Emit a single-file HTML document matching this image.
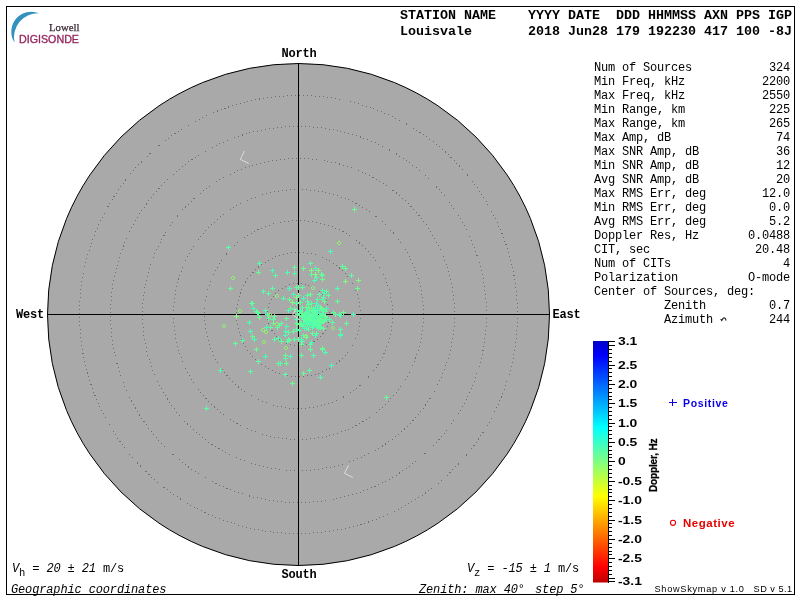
<!DOCTYPE html>
<html><head><meta charset="utf-8"><title>Skymap</title>
<style>
html,body{margin:0;padding:0;background:#fff;}
body{width:800px;height:600px;position:relative;overflow:hidden;font-family:"Liberation Mono",monospace;color:#000;}
#frame{position:absolute;left:6px;top:6px;width:787px;height:587px;border:1px solid #000;}
#wrap{position:absolute;left:0;top:0;width:800px;height:600px;will-change:transform;}
svg{position:absolute;left:0;top:0;}
.t{position:absolute;white-space:pre;}
.hd{font:bold 13.33px/16px "Liberation Mono",monospace;left:400px;}
.dir{font:bold 12px/14px "Liberation Mono",monospace;letter-spacing:-0.2px;}
.r{position:absolute;left:594px;width:196px;height:14px;font:12px/14px "Liberation Mono",monospace;letter-spacing:-0.2px;white-space:pre;}
.r b{position:absolute;right:0;top:0;font-weight:normal;}
.it{font:italic 12px/14px "Liberation Mono",monospace;letter-spacing:-0.14px;}
.it i{font-style:normal;}
.it sub{font-style:normal;font-size:10.5px;vertical-align:baseline;position:relative;top:4px;}
.cl{position:absolute;left:617.5px;font:bold 11px/14px "Liberation Sans",sans-serif;white-space:pre;transform-origin:0 50%;transform:scaleX(1.26);}
.sans{font-family:"Liberation Sans",sans-serif;}
</style></head><body>
<div id="wrap"><div id="frame"></div>
<svg width="800" height="600" viewBox="0 0 800 600">
<defs><linearGradient id="g" x1="0" y1="0" x2="0" y2="1">
<stop offset="0" stop-color="#0000c8"/><stop offset="0.06" stop-color="#0000ff"/>
<stop offset="0.357" stop-color="#00ffff"/><stop offset="0.5" stop-color="#80ff80"/>
<stop offset="0.643" stop-color="#ffff00"/><stop offset="0.935" stop-color="#ff0000"/><stop offset="1" stop-color="#be0000"/>
</linearGradient></defs>
<circle cx="298.5" cy="314.5" r="251" fill="#a9a9a9" stroke="#000" stroke-width="1"/>
<g fill="none" stroke="#6e6e6e" stroke-width="1" stroke-dasharray="1 3" shape-rendering="crispEdges"><circle cx="298.5" cy="314.5" r="31"/><circle cx="298.5" cy="314.5" r="62"/><circle cx="298.5" cy="314.5" r="94"/><circle cx="298.5" cy="314.5" r="125"/><circle cx="298.5" cy="314.5" r="156"/><circle cx="298.5" cy="314.5" r="188"/><circle cx="298.5" cy="314.5" r="219"/></g>
<g stroke="#000" stroke-width="1" shape-rendering="crispEdges"><path d="M298.5 63v503M47 314.5h503"/></g>
<g shape-rendering="crispEdges" stroke-width="1"><path d="M226 247.5h5M228.5 245v5" stroke="#5affa5"/><path d="M257 263.5h5M259.5 261v5" stroke="#50ffb0"/><path d="M256 272.5h5M258.5 270v5" stroke="#69ff8c"/><path d="M270 270.5h5M272.5 268v5" stroke="#46ffb9"/><path d="M273 275.5h5M275.5 273v5" stroke="#5affa0"/><path d="M228 288.5h5M230.5 286v5" stroke="#64ff96"/><path d="M270 288.5h5M272.5 286v5" stroke="#5affa5"/><path d="M261 291.5h5M263.5 289v5" stroke="#50ffb0"/><path d="M352 209.5h5M354.5 207v5" stroke="#69ff8c"/><path d="M328 251.5h5M330.5 249v5" stroke="#46ffb9"/><path d="M308 263.5h5M310.5 261v5" stroke="#5affa0"/><path d="M292 267.5h5M294.5 265v5" stroke="#64ff96"/><path d="M292 273.5h5M294.5 271v5" stroke="#5affa5"/><path d="M285 272.5h5M287.5 270v5" stroke="#50ffb0"/><path d="M301 268.5h5M303.5 266v5" stroke="#69ff8c"/><path d="M313 268.5h5M315.5 266v5" stroke="#46ffb9"/><path d="M309 274.5h5M311.5 272v5" stroke="#5affa0"/><path d="M319 274.5h5M321.5 272v5" stroke="#64ff96"/><path d="M320 275.5h5M322.5 273v5" stroke="#5affa5"/><path d="M314 277.5h5M316.5 275v5" stroke="#50ffb0"/><path d="M320 279.5h5M322.5 277v5" stroke="#69ff8c"/><path d="M312 280.5h5M314.5 278v5" stroke="#46ffb9"/><path d="M340 266.5h5M342.5 264v5" stroke="#5affa0"/><path d="M343 268.5h5M345.5 266v5" stroke="#64ff96"/><path d="M349 275.5h5M351.5 273v5" stroke="#5affa5"/><path d="M335 288.5h5M337.5 286v5" stroke="#50ffb0"/><path d="M355 288.5h5M357.5 286v5" stroke="#69ff8c"/><path d="M287 288.5h5M289.5 286v5" stroke="#46ffb9"/><path d="M294 287.5h5M296.5 285v5" stroke="#5affa0"/><path d="M296 287.5h5M298.5 285v5" stroke="#64ff96"/><path d="M300 287.5h5M302.5 285v5" stroke="#5affa5"/><path d="M320 290.5h5M322.5 288v5" stroke="#50ffb0"/><path d="M324 291.5h5M326.5 289v5" stroke="#69ff8c"/><path d="M322 293.5h5M324.5 291v5" stroke="#46ffb9"/><path d="M317 294.5h5M319.5 292v5" stroke="#5affa0"/><path d="M326 295.5h5M328.5 293v5" stroke="#64ff96"/><path d="M321 297.5h5M323.5 295v5" stroke="#5affa5"/><path d="M320 299.5h5M322.5 297v5" stroke="#50ffb0"/><path d="M322 301.5h5M324.5 299v5" stroke="#69ff8c"/><path d="M291 294.5h5M293.5 292v5" stroke="#46ffb9"/><path d="M296 295.5h5M298.5 293v5" stroke="#5affa0"/><path d="M308 294.5h5M310.5 292v5" stroke="#64ff96"/><path d="M305 295.5h5M307.5 293v5" stroke="#5affa5"/><path d="M281 298.5h5M283.5 296v5" stroke="#50ffb0"/><path d="M287 299.5h5M289.5 297v5" stroke="#69ff8c"/><path d="M301 298.5h5M303.5 296v5" stroke="#46ffb9"/><path d="M294 303.5h5M296.5 301v5" stroke="#5affa0"/><path d="M298 302.5h5M300.5 300v5" stroke="#64ff96"/><path d="M305 301.5h5M307.5 299v5" stroke="#5affa5"/><path d="M309 303.5h5M311.5 301v5" stroke="#50ffb0"/><path d="M288 308.5h5M290.5 306v5" stroke="#69ff8c"/><path d="M286 310.5h5M288.5 308v5" stroke="#46ffb9"/><path d="M292 309.5h5M294.5 307v5" stroke="#5affa0"/><path d="M335 301.5h5M337.5 299v5" stroke="#64ff96"/><path d="M266 293.5h5M268.5 291v5" stroke="#5affa5"/><path d="M249 303.5h5M251.5 301v5" stroke="#50ffb0"/><path d="M250 303.5h5M252.5 301v5" stroke="#69ff8c"/><path d="M251 308.5h5M253.5 306v5" stroke="#46ffb9"/><path d="M254 311.5h5M256.5 309v5" stroke="#5affa0"/><path d="M255 312.5h5M257.5 310v5" stroke="#64ff96"/><path d="M256 313.5h5M258.5 311v5" stroke="#5affa5"/><path d="M263 310.5h5M265.5 308v5" stroke="#50ffb0"/><path d="M257 317.5h5M259.5 315v5" stroke="#69ff8c"/><path d="M265 314.5h5M267.5 312v5" stroke="#46ffb9"/><path d="M266 318.5h5M268.5 316v5" stroke="#5affa0"/><path d="M272 316.5h5M274.5 314v5" stroke="#64ff96"/><path d="M271 319.5h5M273.5 317v5" stroke="#5affa5"/><path d="M247 322.5h5M249.5 320v5" stroke="#50ffb0"/><path d="M271 323.5h5M273.5 321v5" stroke="#69ff8c"/><path d="M264 327.5h5M266.5 325v5" stroke="#46ffb9"/><path d="M268 327.5h5M270.5 325v5" stroke="#5affa0"/><path d="M275 327.5h5M277.5 325v5" stroke="#64ff96"/><path d="M277 325.5h5M279.5 323v5" stroke="#5affa5"/><path d="M248 331.5h5M250.5 329v5" stroke="#50ffb0"/><path d="M250 336.5h5M252.5 334v5" stroke="#69ff8c"/><path d="M252 339.5h5M254.5 337v5" stroke="#46ffb9"/><path d="M240 340.5h5M242.5 338v5" stroke="#5affa0"/><path d="M233 343.5h5M235.5 341v5" stroke="#64ff96"/><path d="M272 339.5h5M274.5 337v5" stroke="#5affa5"/><path d="M276 338.5h5M278.5 336v5" stroke="#50ffb0"/><path d="M254 349.5h5M256.5 347v5" stroke="#69ff8c"/><path d="M263 356.5h5M265.5 354v5" stroke="#46ffb9"/><path d="M256 361.5h5M258.5 359v5" stroke="#5affa0"/><path d="M276 363.5h5M278.5 361v5" stroke="#64ff96"/><path d="M248 371.5h5M250.5 369v5" stroke="#5affa5"/><path d="M218 370.5h5M220.5 368v5" stroke="#50ffb0"/><path d="M279 341.5h5M281.5 339v5" stroke="#69ff8c"/><path d="M283 335.5h5M285.5 333v5" stroke="#46ffb9"/><path d="M286 339.5h5M288.5 337v5" stroke="#5affa0"/><path d="M287 340.5h5M289.5 338v5" stroke="#64ff96"/><path d="M285 341.5h5M287.5 339v5" stroke="#5affa5"/><path d="M292 339.5h5M294.5 337v5" stroke="#50ffb0"/><path d="M296 339.5h5M298.5 337v5" stroke="#69ff8c"/><path d="M299 339.5h5M301.5 337v5" stroke="#46ffb9"/><path d="M301 335.5h5M303.5 333v5" stroke="#5affa0"/><path d="M304 337.5h5M306.5 335v5" stroke="#64ff96"/><path d="M313 335.5h5M315.5 333v5" stroke="#5affa5"/><path d="M300 341.5h5M302.5 339v5" stroke="#50ffb0"/><path d="M299 344.5h5M301.5 342v5" stroke="#69ff8c"/><path d="M309 342.5h5M311.5 340v5" stroke="#46ffb9"/><path d="M308 344.5h5M310.5 342v5" stroke="#5affa0"/><path d="M308 349.5h5M310.5 347v5" stroke="#64ff96"/><path d="M320 349.5h5M322.5 347v5" stroke="#5affa5"/><path d="M323 352.5h5M325.5 350v5" stroke="#50ffb0"/><path d="M283 355.5h5M285.5 353v5" stroke="#69ff8c"/><path d="M288 356.5h5M290.5 354v5" stroke="#46ffb9"/><path d="M283 358.5h5M285.5 356v5" stroke="#5affa0"/><path d="M299 355.5h5M301.5 353v5" stroke="#64ff96"/><path d="M311 355.5h5M313.5 353v5" stroke="#5affa5"/><path d="M278 363.5h5M280.5 361v5" stroke="#50ffb0"/><path d="M284 363.5h5M286.5 361v5" stroke="#69ff8c"/><path d="M329 365.5h5M331.5 363v5" stroke="#46ffb9"/><path d="M307 370.5h5M309.5 368v5" stroke="#5affa0"/><path d="M301 373.5h5M303.5 371v5" stroke="#64ff96"/><path d="M283 374.5h5M285.5 372v5" stroke="#5affa5"/><path d="M318 377.5h5M320.5 375v5" stroke="#50ffb0"/><path d="M290 383.5h5M292.5 381v5" stroke="#69ff8c"/><path d="M338 335.5h5M340.5 333v5" stroke="#46ffb9"/><path d="M331 312.5h5M333.5 310v5" stroke="#5affa0"/><path d="M333 314.5h5M335.5 312v5" stroke="#64ff96"/><path d="M337 314.5h5M339.5 312v5" stroke="#5affa5"/><path d="M338 315.5h5M340.5 313v5" stroke="#50ffb0"/><path d="M341 312.5h5M343.5 310v5" stroke="#69ff8c"/><path d="M351 314.5h5M353.5 312v5" stroke="#46ffb9"/><path d="M330 322.5h5M332.5 320v5" stroke="#5affa0"/><path d="M344 323.5h5M346.5 321v5" stroke="#64ff96"/><path d="M338 329.5h5M340.5 327v5" stroke="#5affa5"/><path d="M338 334.5h5M340.5 332v5" stroke="#50ffb0"/><path d="M320 348.5h5M322.5 346v5" stroke="#69ff8c"/><path d="M324 308.5h5M326.5 306v5" stroke="#46ffb9"/><path d="M323 311.5h5M325.5 309v5" stroke="#5affa0"/><path d="M284 318.5h5M286.5 316v5" stroke="#64ff96"/><path d="M279 323.5h5M281.5 321v5" stroke="#5affa5"/><path d="M284 326.5h5M286.5 324v5" stroke="#50ffb0"/><path d="M294 323.5h5M296.5 321v5" stroke="#69ff8c"/><path d="M283 331.5h5M285.5 329v5" stroke="#46ffb9"/><path d="M286 332.5h5M288.5 330v5" stroke="#5affa0"/><path d="M291 331.5h5M293.5 329v5" stroke="#64ff96"/><path d="M294 329.5h5M296.5 327v5" stroke="#5affa5"/><path d="M297 330.5h5M299.5 328v5" stroke="#50ffb0"/><path d="M310 333.5h5M312.5 331v5" stroke="#69ff8c"/><path d="M313 335.5h5M315.5 333v5" stroke="#46ffb9"/><path d="M204 408.5h5M206.5 406v5" stroke="#5affa0"/><path d="M384 397.5h5M386.5 395v5" stroke="#64ff96"/><path d="M309 270.5h5M311.5 268v5" stroke="#82ff7d"/><path d="M316 270.5h5M318.5 268v5" stroke="#82ff7d"/><path d="M313 274.5h5M315.5 272v5" stroke="#82ff7d"/><path d="M343 281.5h5M345.5 279v5" stroke="#82ff7d"/><path d="M356 280.5h5M358.5 278v5" stroke="#82ff7d"/><path d="M294 297.5h5M296.5 295v5" stroke="#82ff7d"/><path d="M290 302.5h5M292.5 300v5" stroke="#82ff7d"/><path d="M234 316.5h5M236.5 314v5" stroke="#82ff7d"/><path d="M309 320.5h5M311.5 318v5" stroke="#5affa5"/><path d="M309 315.5h5M311.5 313v5" stroke="#50ffb0"/><path d="M304 316.5h5M306.5 314v5" stroke="#69ff8c"/><path d="M318 320.5h5M320.5 318v5" stroke="#46ffb9"/><path d="M318 319.5h5M320.5 317v5" stroke="#5affa0"/><path d="M313 318.5h5M315.5 316v5" stroke="#64ff96"/><path d="M299 323.5h5M301.5 321v5" stroke="#5affa5"/><path d="M314 320.5h5M316.5 318v5" stroke="#50ffb0"/><path d="M304 314.5h5M306.5 312v5" stroke="#69ff8c"/><path d="M313 317.5h5M315.5 315v5" stroke="#46ffb9"/><path d="M314 313.5h5M316.5 311v5" stroke="#5affa0"/><path d="M313 320.5h5M315.5 318v5" stroke="#64ff96"/><path d="M306 329.5h5M308.5 327v5" stroke="#5affa5"/><path d="M314 325.5h5M316.5 323v5" stroke="#50ffb0"/><path d="M306 312.5h5M308.5 310v5" stroke="#69ff8c"/><path d="M308 316.5h5M310.5 314v5" stroke="#46ffb9"/><path d="M315 319.5h5M317.5 317v5" stroke="#5affa0"/><path d="M307 310.5h5M309.5 308v5" stroke="#64ff96"/><path d="M307 325.5h5M309.5 323v5" stroke="#5affa5"/><path d="M305 319.5h5M307.5 317v5" stroke="#50ffb0"/><path d="M313 307.5h5M315.5 305v5" stroke="#69ff8c"/><path d="M311 326.5h5M313.5 324v5" stroke="#46ffb9"/><path d="M297 315.5h5M299.5 313v5" stroke="#5affa0"/><path d="M310 311.5h5M312.5 309v5" stroke="#64ff96"/><path d="M314 317.5h5M316.5 315v5" stroke="#5affa5"/><path d="M301 323.5h5M303.5 321v5" stroke="#50ffb0"/><path d="M315 323.5h5M317.5 321v5" stroke="#69ff8c"/><path d="M320 319.5h5M322.5 317v5" stroke="#46ffb9"/><path d="M311 308.5h5M313.5 306v5" stroke="#5affa0"/><path d="M315 313.5h5M317.5 311v5" stroke="#64ff96"/><path d="M307 308.5h5M309.5 306v5" stroke="#5affa5"/><path d="M304 313.5h5M306.5 311v5" stroke="#50ffb0"/><path d="M301 319.5h5M303.5 317v5" stroke="#69ff8c"/><path d="M320 321.5h5M322.5 319v5" stroke="#46ffb9"/><path d="M313 312.5h5M315.5 310v5" stroke="#5affa0"/><path d="M303 324.5h5M305.5 322v5" stroke="#64ff96"/><path d="M318 318.5h5M320.5 316v5" stroke="#5affa5"/><path d="M312 320.5h5M314.5 318v5" stroke="#50ffb0"/><path d="M321 321.5h5M323.5 319v5" stroke="#69ff8c"/><path d="M314 321.5h5M316.5 319v5" stroke="#46ffb9"/><path d="M300 326.5h5M302.5 324v5" stroke="#5affa0"/><path d="M317 321.5h5M319.5 319v5" stroke="#64ff96"/><path d="M297 313.5h5M299.5 311v5" stroke="#5affa5"/><path d="M316 305.5h5M318.5 303v5" stroke="#50ffb0"/><path d="M309 324.5h5M311.5 322v5" stroke="#69ff8c"/><path d="M302 328.5h5M304.5 326v5" stroke="#46ffb9"/><path d="M314 316.5h5M316.5 314v5" stroke="#5affa0"/><path d="M313 321.5h5M315.5 319v5" stroke="#64ff96"/><path d="M311 325.5h5M313.5 323v5" stroke="#5affa5"/><path d="M306 314.5h5M308.5 312v5" stroke="#50ffb0"/><path d="M318 317.5h5M320.5 315v5" stroke="#69ff8c"/><path d="M305 323.5h5M307.5 321v5" stroke="#46ffb9"/><path d="M320 314.5h5M322.5 312v5" stroke="#5affa0"/><path d="M301 316.5h5M303.5 314v5" stroke="#64ff96"/><path d="M309 315.5h5M311.5 313v5" stroke="#5affa5"/><path d="M320 310.5h5M322.5 308v5" stroke="#50ffb0"/><path d="M319 308.5h5M321.5 306v5" stroke="#69ff8c"/><path d="M305 321.5h5M307.5 319v5" stroke="#46ffb9"/><path d="M318 323.5h5M320.5 321v5" stroke="#5affa0"/><path d="M313 318.5h5M315.5 316v5" stroke="#64ff96"/><path d="M312 321.5h5M314.5 319v5" stroke="#5affa5"/><path d="M309 319.5h5M311.5 317v5" stroke="#50ffb0"/><path d="M314 317.5h5M316.5 315v5" stroke="#69ff8c"/><path d="M316 321.5h5M318.5 319v5" stroke="#46ffb9"/><path d="M324 319.5h5M326.5 317v5" stroke="#5affa0"/><path d="M308 314.5h5M310.5 312v5" stroke="#64ff96"/><path d="M310 323.5h5M312.5 321v5" stroke="#5affa5"/><path d="M308 320.5h5M310.5 318v5" stroke="#50ffb0"/><path d="M303 319.5h5M305.5 317v5" stroke="#69ff8c"/><path d="M313 319.5h5M315.5 317v5" stroke="#46ffb9"/><path d="M308 321.5h5M310.5 319v5" stroke="#5affa0"/><path d="M312 313.5h5M314.5 311v5" stroke="#64ff96"/><path d="M327 319.5h5M329.5 317v5" stroke="#5affa5"/><path d="M307 316.5h5M309.5 314v5" stroke="#50ffb0"/><path d="M309 317.5h5M311.5 315v5" stroke="#69ff8c"/><path d="M317 309.5h5M319.5 307v5" stroke="#46ffb9"/><path d="M310 323.5h5M312.5 321v5" stroke="#5affa0"/><path d="M316 327.5h5M318.5 325v5" stroke="#64ff96"/><path d="M299 315.5h5M301.5 313v5" stroke="#5affa5"/><path d="M308 321.5h5M310.5 319v5" stroke="#50ffb0"/><path d="M318 307.5h5M320.5 305v5" stroke="#69ff8c"/><path d="M315 307.5h5M317.5 305v5" stroke="#46ffb9"/><path d="M312 325.5h5M314.5 323v5" stroke="#5affa0"/><path d="M309 318.5h5M311.5 316v5" stroke="#64ff96"/><path d="M316 318.5h5M318.5 316v5" stroke="#5affa5"/><path d="M310 327.5h5M312.5 325v5" stroke="#50ffb0"/><path d="M318 315.5h5M320.5 313v5" stroke="#69ff8c"/><path d="M317 315.5h5M319.5 313v5" stroke="#46ffb9"/><path d="M311 322.5h5M313.5 320v5" stroke="#5affa0"/><path d="M312 321.5h5M314.5 319v5" stroke="#64ff96"/><path d="M300 307.5h5M302.5 305v5" stroke="#5affa5"/><path d="M315 310.5h5M317.5 308v5" stroke="#50ffb0"/><path d="M304 307.5h5M306.5 305v5" stroke="#69ff8c"/><path d="M319 322.5h5M321.5 320v5" stroke="#46ffb9"/><path d="M321 311.5h5M323.5 309v5" stroke="#5affa0"/><path d="M311 309.5h5M313.5 307v5" stroke="#64ff96"/><path d="M316 328.5h5M318.5 326v5" stroke="#5affa5"/><path d="M304 328.5h5M306.5 326v5" stroke="#50ffb0"/><path d="M317 316.5h5M319.5 314v5" stroke="#69ff8c"/><path d="M310 313.5h5M312.5 311v5" stroke="#46ffb9"/><path d="M313 320.5h5M315.5 318v5" stroke="#5affa0"/><path d="M321 310.5h5M323.5 308v5" stroke="#64ff96"/><path d="M318 327.5h5M320.5 325v5" stroke="#5affa5"/><path d="M320 316.5h5M322.5 314v5" stroke="#50ffb0"/><path d="M305 324.5h5M307.5 322v5" stroke="#69ff8c"/><path d="M311 318.5h5M313.5 316v5" stroke="#46ffb9"/><path d="M320 315.5h5M322.5 313v5" stroke="#5affa0"/><path d="M295 314.5h5M297.5 312v5" stroke="#64ff96"/><path d="M298 323.5h5M300.5 321v5" stroke="#5affa5"/><path d="M313 313.5h5M315.5 311v5" stroke="#50ffb0"/><path d="M310 323.5h5M312.5 321v5" stroke="#69ff8c"/><path d="M311 326.5h5M313.5 324v5" stroke="#46ffb9"/><path d="M310 324.5h5M312.5 322v5" stroke="#5affa0"/><path d="M321 328.5h5M323.5 326v5" stroke="#64ff96"/><path d="M306 323.5h5M308.5 321v5" stroke="#5affa5"/><path d="M298 310.5h5M300.5 308v5" stroke="#50ffb0"/><path d="M297 324.5h5M299.5 322v5" stroke="#69ff8c"/><path d="M302 317.5h5M304.5 315v5" stroke="#46ffb9"/><path d="M309 317.5h5M311.5 315v5" stroke="#5affa0"/><path d="M306 319.5h5M308.5 317v5" stroke="#64ff96"/><path d="M323 317.5h5M325.5 315v5" stroke="#5affa5"/><path d="M314 324.5h5M316.5 322v5" stroke="#50ffb0"/><path d="M309 308.5h5M311.5 306v5" stroke="#69ff8c"/><path d="M307 324.5h5M309.5 322v5" stroke="#46ffb9"/><path d="M299 313.5h5M301.5 311v5" stroke="#5affa0"/><path d="M317 322.5h5M319.5 320v5" stroke="#64ff96"/><path d="M311 322.5h5M313.5 320v5" stroke="#5affa5"/><path d="M312 309.5h5M314.5 307v5" stroke="#50ffb0"/><path d="M300 313.5h5M302.5 311v5" stroke="#69ff8c"/><path d="M317 313.5h5M319.5 311v5" stroke="#46ffb9"/><path d="M304 312.5h5M306.5 310v5" stroke="#5affa0"/><path d="M300 316.5h5M302.5 314v5" stroke="#64ff96"/><path d="M302 319.5h5M304.5 317v5" stroke="#5affa5"/><path d="M294 319.5h5M296.5 317v5" stroke="#50ffb0"/><path d="M306 304.5h5M308.5 302v5" stroke="#69ff8c"/><path d="M315 315.5h5M317.5 313v5" stroke="#46ffb9"/><path d="M295 311.5h5M297.5 309v5" stroke="#5affa0"/><path d="M312 314.5h5M314.5 312v5" stroke="#64ff96"/><path d="M316 322.5h5M318.5 320v5" stroke="#5affa5"/><path d="M315 319.5h5M317.5 317v5" stroke="#50ffb0"/><path d="M320 321.5h5M322.5 319v5" stroke="#69ff8c"/><path d="M314 303.5h5M316.5 301v5" stroke="#46ffb9"/><path d="M317 326.5h5M319.5 324v5" stroke="#5affa0"/><path d="M308 314.5h5M310.5 312v5" stroke="#64ff96"/><path d="M314 333.5h5M316.5 331v5" stroke="#5affa5"/><path d="M304 322.5h5M306.5 320v5" stroke="#50ffb0"/><path d="M323 316.5h5M325.5 314v5" stroke="#69ff8c"/><path d="M314 323.5h5M316.5 321v5" stroke="#46ffb9"/><path d="M304 316.5h5M306.5 314v5" stroke="#5affa0"/><path d="M312 323.5h5M314.5 321v5" stroke="#64ff96"/><path d="M310 316.5h5M312.5 314v5" stroke="#5affa5"/><path d="M304 315.5h5M306.5 313v5" stroke="#50ffb0"/><path d="M317 318.5h5M319.5 316v5" stroke="#69ff8c"/><path d="M305 311.5h5M307.5 309v5" stroke="#46ffb9"/><path d="M315 299.5h5M317.5 297v5" stroke="#5affa0"/><path d="M315 320.5h5M317.5 318v5" stroke="#64ff96"/><path d="M322 320.5h5M324.5 318v5" stroke="#5affa5"/><path d="M310 321.5h5M312.5 319v5" stroke="#50ffb0"/><path d="M232 276.5h2M232 279.5h2M231.5 277v2M234.5 277v2" stroke="#8cf56e"/><path d="M338 241.5h2M338 244.5h2M337.5 242v2M340.5 242v2" stroke="#8cf56e"/><path d="M312 286.5h2M312 289.5h2M311.5 287v2M314.5 287v2" stroke="#8cf56e"/><path d="M276 294.5h2M276 297.5h2M275.5 295v2M278.5 295v2" stroke="#8cf56e"/><path d="M239 309.5h2M239 312.5h2M238.5 310v2M241.5 310v2" stroke="#8cf56e"/><path d="M269 313.5h2M269 316.5h2M268.5 314v2M271.5 314v2" stroke="#8cf56e"/><path d="M223 324.5h2M223 327.5h2M222.5 325v2M225.5 325v2" stroke="#8cf56e"/><path d="M276 322.5h2M276 325.5h2M275.5 323v2M278.5 323v2" stroke="#8cf56e"/><path d="M262 328.5h2M262 331.5h2M261.5 329v2M264.5 329v2" stroke="#8cf56e"/><path d="M265 330.5h2M265 333.5h2M264.5 331v2M267.5 331v2" stroke="#8cf56e"/><path d="M263 340.5h2M263 343.5h2M262.5 341v2M265.5 341v2" stroke="#8cf56e"/><path d="M285 346.5h2M285 349.5h2M284.5 347v2M287.5 347v2" stroke="#8cf56e"/><path d="M332 326.5h2M332 329.5h2M331.5 327v2M334.5 327v2" stroke="#8cf56e"/><path d="M305 334.5h2M305 337.5h2M304.5 335v2M307.5 335v2" stroke="#8cf56e"/></g>
<g fill="none" stroke="#dcdcdc" stroke-width="1"><path d="M244.5 151L240.3 159.3L248.8 163.5"/><path d="M348.5 465.3L344.5 473.3L352.8 477.5"/><path d="M296.3 308.3L292.7 314.7L300.3 320.3"/></g>
<rect x="593" y="341" width="15" height="241.5" fill="url(#g)"/>
<g stroke="#000" stroke-width="1" shape-rendering="crispEdges"><path d="M608.5 341v241.5"/><path d="M608 581.5h7M608 578.5h7M608 574.5h4M608 570.5h4M608 566.5h4M608 562.5h4M608 558.5h7M608 554.5h4M608 551.5h4M608 547.5h4M608 543.5h4M608 539.5h7M608 535.5h4M608 531.5h4M608 527.5h4M608 523.5h4M608 520.5h7M608 516.5h4M608 512.5h4M608 508.5h4M608 504.5h4M608 500.5h7M608 496.5h4M608 492.5h4M608 489.5h4M608 485.5h4M608 481.5h7M608 477.5h4M608 473.5h4M608 469.5h4M608 465.5h4M608 461.5h7M608 457.5h4M608 454.5h4M608 450.5h4M608 446.5h4M608 442.5h7M608 438.5h4M608 434.5h4M608 430.5h4M608 426.5h4M608 423.5h7M608 419.5h4M608 415.5h4M608 411.5h4M608 407.5h4M608 403.5h7M608 399.5h4M608 396.5h4M608 392.5h4M608 388.5h4M608 384.5h7M608 380.5h4M608 376.5h4M608 372.5h4M608 368.5h4M608 365.5h7M608 361.5h4M608 357.5h4M608 353.5h4M608 349.5h4M608 345.5h7M608 341.5h7"/></g>
<path d="M39 13.2A20 20 0 0 0 14.5 42.5A24.2 24.2 0 0 1 39 13.2Z" fill="#3291be"/>
<path d="M669 402.5h8M672.5 399v7" stroke="#0a00eb" stroke-width="1" shape-rendering="crispEdges"/>
<path d="M725.8 320.6C726.3 317.6 723.6 316.9 722.2 319.4" fill="none" stroke="#222" stroke-width="1.1"/><path d="M720.2 319.1L723.4 319.3L721.6 321.4Z" fill="#222"/>
<circle cx="673" cy="522.8" r="2.55" fill="none" stroke="#e80000" stroke-width="1.1"/>
</svg>
<div class="t" style="left:49px;top:20px;font:10.8px/14px 'Liberation Serif',serif;color:#3a2a35;-webkit-text-stroke:0.25px #3a2a35">Lowell</div>
<div class="t" style="left:19px;top:32px;font:10.7px/14px 'Liberation Sans',sans-serif;color:#96285f;-webkit-text-stroke:0.35px #96285f">DIGISONDE</div>
<div class="t hd" style="top:8px">STATION NAME    YYYY DATE  DDD HHMMSS AXN PPS IGP</div>
<div class="t hd" style="top:24px">Louisvale       2018 Jun28 179 192230 417 100 -8J</div>
<div class="t dir" style="left:281.5px;top:47px">North</div>
<div class="t dir" style="left:281.5px;top:568px">South</div>
<div class="t dir" style="left:16px;top:308px">West</div>
<div class="t dir" style="left:552.5px;top:308px">East</div>
<div class="r" style="top:61px"><span>Num of Sources</span><b>324</b></div><div class="r" style="top:75px"><span>Min Freq, kHz</span><b>2200</b></div><div class="r" style="top:89px"><span>Max Freq, kHz</span><b>2550</b></div><div class="r" style="top:103px"><span>Min Range, km</span><b>225</b></div><div class="r" style="top:117px"><span>Max Range, km</span><b>265</b></div><div class="r" style="top:131px"><span>Max Amp, dB</span><b>74</b></div><div class="r" style="top:145px"><span>Max SNR Amp, dB</span><b>36</b></div><div class="r" style="top:159px"><span>Min SNR Amp, dB</span><b>12</b></div><div class="r" style="top:173px"><span>Avg SNR Amp, dB</span><b>20</b></div><div class="r" style="top:187px"><span>Max RMS Err, deg</span><b>12.0</b></div><div class="r" style="top:201px"><span>Min RMS Err, deg</span><b>0.0</b></div><div class="r" style="top:215px"><span>Avg RMS Err, deg</span><b>5.2</b></div><div class="r" style="top:229px"><span>Doppler Res, Hz</span><b>0.0488</b></div><div class="r" style="top:243px"><span>CIT, sec</span><b>20.48</b></div><div class="r" style="top:257px"><span>Num of CITs</span><b>4</b></div><div class="r" style="top:271px"><span>Polarization</span><b>O-mode</b></div><div class="r" style="top:285px"><span>Center of Sources, deg:</span><b></b></div><div class="r" style="top:299px"><span>          Zenith</span><b>0.7</b></div><div class="r" style="top:313px"><span>          Azimuth</span><b>244</b></div>
<div class="t it" style="left:12px;top:562px">V<sub>h</sub><i> = </i>20<i> ± </i>21<i> m/s</i></div>
<div class="t it" style="left:11px;top:583px">Geographic coordinates</div>
<div class="t it" style="left:467px;top:562px">V<sub>z</sub><i> = </i>-15<i> ± </i>1<i> m/s</i></div>
<div class="t it" style="left:419px;top:583px">Zenith: max 40<span style="margin-right:-4px">°</span>  step 5<span style="margin-right:-4px">°</span></div>
<div class="cl" style="top:334px">3.1</div><div class="cl" style="top:358px">2.5</div><div class="cl" style="top:377px">2.0</div><div class="cl" style="top:396px">1.5</div><div class="cl" style="top:416px">1.0</div><div class="cl" style="top:435px">0.5</div><div class="cl" style="top:454px">0</div><div class="cl" style="top:474px">-0.5</div><div class="cl" style="top:493px">-1.0</div><div class="cl" style="top:513px">-1.5</div><div class="cl" style="top:532px">-2.0</div><div class="cl" style="top:551px">-2.5</div><div class="cl" style="top:574px">-3.1</div>
<div class="t sans" style="left:659.7px;top:492.4px;font-weight:bold;font-size:10px;line-height:12px;letter-spacing:-0.15px;-webkit-text-stroke:0.3px #000;transform-origin:0 0;transform:rotate(-90deg) translateY(-100%);">Doppler, Hz</div>
<div class="t sans" style="left:683px;top:396px;font-weight:bold;font-size:10.5px;line-height:14px;color:#0a00eb;letter-spacing:0.65px">Positive</div>
<div class="t sans" style="left:683px;top:516px;font-weight:bold;font-size:10.5px;line-height:14px;color:#e80000;letter-spacing:0.5px;transform-origin:0 50%;transform:scaleX(1.09)">Negative</div>
<div class="t sans" style="left:654.5px;top:583.4px;font-size:9.2px;line-height:12px;letter-spacing:0.72px">ShowSkymap v 1.0</div>
<div class="t sans" style="left:753.5px;top:583.4px;font-size:9.2px;line-height:12px;letter-spacing:0.5px">SD v 5.1</div>
</div></body></html>
